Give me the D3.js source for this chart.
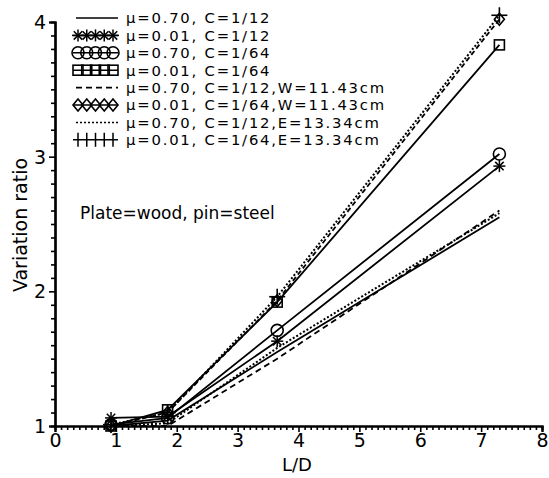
<!DOCTYPE html>
<html><head><meta charset="utf-8">
<script src="https://cdn.jsdelivr.net/npm/d3@7"></script>
<style>body{margin:0;background:#fff}svg{display:block}text{font-family:"DejaVu Sans",sans-serif;fill:#000}</style>
</head><body><svg id="c" width="549" height="478"></svg>
<script>
// ---- data ----
const xVals = [0.92, 1.85, 3.65, 7.3];
const s070c12   = [1.00, 1.04, 1.55, 2.55];
const s001c12   = [1.06, 1.07, 1.63, 2.93];
const s070c64   = [1.01, 1.06, 1.71, 3.02];
const s001c64   = [1.00, 1.12, 1.92, 3.83];
const s070c12W  = [1.00, 1.00, 1.50, 2.60];
const s001c64W  = [1.00, 1.10, 1.93, 4.02];
const s070c12E  = [1.00, 1.02, 1.58, 2.58];
const s001c64E  = [1.01, 1.10, 1.96, 4.05];
const legendLabels = ["μ=0.70, C=1/12","μ=0.01, C=1/12","μ=0.70, C=1/64","μ=0.01, C=1/64",
  "μ=0.70, C=1/12,W=11.43cm","μ=0.01, C=1/64,W=11.43cm","μ=0.70, C=1/12,E=13.34cm","μ=0.01, C=1/64,E=13.34cm"];
const xTicks = [0,1,2,3,4,5,6,7,8];
const yTicks = [1,2,3,4];

const series = [
  {v:s070c12, dash:null, marker:null},
  {v:s001c12, dash:null, marker:"star"},
  {v:s070c64, dash:null, marker:"circle"},
  {v:s001c64, dash:null, marker:"square"},
  {v:s070c12W, dash:"6,4", marker:null},
  {v:s001c64W, dash:"5,3", marker:"diamond"},
  {v:s070c12E, dash:"2,2", marker:null},
  {v:s001c64E, dash:"2,2", marker:"plus"},
];

const svg = d3.select("#c");
const x = d3.scaleLinear().domain([0,8]).range([55,542]);
const y = d3.scaleLinear().domain([1,4]).range([426,22]);

// axes
const xMinor = d3.range(0,80).map(i=>i/10).filter(v=>Math.abs(v-Math.round(v))>1e-6);
const yMinor = d3.range(10,40).map(i=>i/10).filter(v=>Math.abs(v-Math.round(v))>1e-6);
const gx = svg.append("g").attr("transform",`translate(0,${y(1)})`);
gx.call(d3.axisBottom(x).tickValues(xMinor).tickSize(4).tickFormat(""));
gx.append("g").call(d3.axisBottom(x).tickValues(xTicks).tickSize(6).tickPadding(2).tickFormat(d3.format("d")));
const gy = svg.append("g").attr("transform",`translate(${x(0)},0)`);
gy.call(d3.axisLeft(y).tickValues(yMinor).tickSize(4).tickFormat(""));
gy.append("g").call(d3.axisLeft(y).tickValues(yTicks).tickSize(6).tickPadding(3).tickFormat(d3.format("d")));
svg.selectAll(".domain").attr("stroke","#000").attr("stroke-width",2.2);
svg.selectAll(".tick line").attr("stroke","#000").attr("stroke-width",1.6);
gx.selectAll("text").attr("font-size",19).attr("font-family","DejaVu Sans");
gy.selectAll("text").attr("font-size",19).attr("font-family","DejaVu Sans");
gy.selectAll(".tick text").attr("dy","0.35em");

svg.append("text").attr("x",297).attr("y",471).attr("text-anchor","middle").attr("font-size",18).text("L/D");
svg.append("text").attr("transform","translate(27,225) rotate(-90)").attr("text-anchor","middle").attr("font-size",19).text("Variation  ratio");
svg.append("text").attr("x",80).attr("y",219).attr("font-size",17).text("Plate=wood,  pin=steel");

function drawMarker(g, type, cx, cy){
  const s = 6;
  if(type==="star"){
    for(let a=0;a<180;a+=45){
      const r=a*Math.PI/180;
      g.append("line").attr("x1",cx-s*Math.cos(r)).attr("y1",cy-s*Math.sin(r)).attr("x2",cx+s*Math.cos(r)).attr("y2",cy+s*Math.sin(r)).attr("stroke","#000").attr("stroke-width",1.5);
    }
  } else if(type==="circle"){
    g.append("circle").attr("cx",cx).attr("cy",cy).attr("r",s).attr("fill","none").attr("stroke","#000").attr("stroke-width",1.6);
  } else if(type==="square"){
    g.append("rect").attr("x",cx-5).attr("y",cy-5).attr("width",10).attr("height",10).attr("fill","none").attr("stroke","#000").attr("stroke-width",1.6);
  } else if(type==="diamond"){
    g.append("path").attr("d",`M${cx},${cy-6}L${cx+5},${cy}L${cx},${cy+6}L${cx-5},${cy}Z`).attr("fill","none").attr("stroke","#000").attr("stroke-width",1.6);
  } else if(type==="plus"){
    g.append("line").attr("x1",cx).attr("y1",cy-8).attr("x2",cx).attr("y2",cy+8).attr("stroke","#000").attr("stroke-width",1.6);
    g.append("line").attr("x1",cx-8).attr("y1",cy).attr("x2",cx+8).attr("y2",cy).attr("stroke","#000").attr("stroke-width",1.6);
  }
}

const line = d3.line().x((d,i)=>x(xVals[i])).y(d=>y(d));
const gp = svg.append("g");
series.forEach(s=>{
  gp.append("path").attr("d",line(s.v)).attr("fill","none").attr("stroke","#000")
    .attr("stroke-width",s.dash==="2,2"?2:1.8).attr("stroke-dasharray",s.dash);
  if(s.marker) s.v.forEach((v,i)=>drawMarker(gp,s.marker,x(xVals[i]),y(v)));
});

// legend
const lg = svg.append("g");
legendLabels.forEach((lab,i)=>{
  const ly = 18 + i*17.4;
  const s = series[i];
  const x0 = 73, x1 = 118;
  if(!s.marker){
    lg.append("line").attr("x1",x0+3).attr("x2",x1).attr("y1",ly).attr("y2",ly).attr("stroke","#000")
      .attr("stroke-width",s.dash==="2,2"?1.5:1.7).attr("stroke-dasharray",s.dash);
  } else {
    lg.append("line").attr("x1",x0).attr("x2",x1).attr("y1",ly).attr("y2",ly).attr("stroke","#000").attr("stroke-width",1.5);
    for(let k=0;k<5;k++){
      const cx = x0+5+k*(x1-x0-10)/4;
      if(s.marker==="plus"){
        lg.append("line").attr("x1",cx).attr("x2",cx).attr("y1",ly-7).attr("y2",ly+7).attr("stroke","#000").attr("stroke-width",1.5);
      } else drawMarker(lg,s.marker,cx,ly);
    }
  }
  lg.append("text").attr("x",126).attr("y",ly).attr("dy","0.36em").attr("font-size",14.8).attr("letter-spacing",1.8).text(lab);
});
</script></body></html>
